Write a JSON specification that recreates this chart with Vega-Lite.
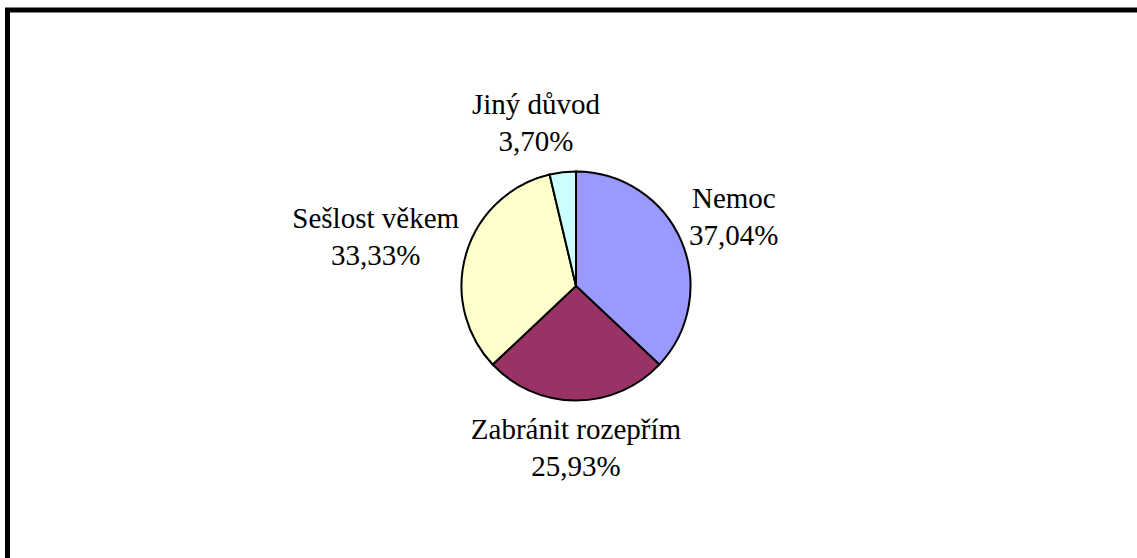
{
  "$schema": "https://vega.github.io/schema/vega-lite/v6.json",
  "width": 1137,
  "height": 552,
  "autosize": {"type": "none"},
  "padding": {"left": 7.5, "top": 10, "right": -7.5, "bottom": -4},
  "background": "white",
  "view": {"stroke": "black", "strokeWidth": 5, "fill": "white"},
  "data": {"values": [
    {"category": "Nemoc", "value": 37.04, "idx": 1, "label": "Nemoc\n37,04%"},
    {"category": "Zabránit rozepřím", "value": 25.93, "idx": 2, "label": "Zabránit rozepřím\n25,93%"},
    {"category": "Sešlost věkem", "value": 33.33, "idx": 3, "label": "Sešlost věkem\n33,33%"},
    {"category": "Jiný důvod", "value": 3.70, "idx": 4, "label": "Jiný důvod\n3,70%"}
  ]},
  "encoding": {
    "theta": {"field": "value", "type": "quantitative", "stack": true},
    "order": {"field": "idx", "type": "quantitative"}
  },
  "layer": [
    {
      "mark": {"type": "arc", "radius": 114.5, "stroke": "black", "strokeWidth": 2},
      "encoding": {
        "color": {"field": "category", "type": "nominal", "legend": null,
          "scale": {"domain": ["Nemoc", "Zabránit rozepřím", "Sešlost věkem", "Jiný důvod"],
                    "range": ["#9999FF", "#993366", "#FFFFCC", "#CCFFFF"]}}
      }
    },
    {
      "mark": {"type": "text", "font": "Liberation Serif", "fontSize": 29, "lineHeight": 37,
               "lineBreak": "\n", "align": "center", "baseline": "middle", "color": "black", "dy": -18.5},
      "encoding": {
        "text": {"field": "label", "type": "nominal"},
        "theta": {"field": "value", "type": "quantitative", "stack": true,
          "scale": {"type": "linear", "domain": [0, 18.52, 50.0, 79.63, 98.15, 100], "range": [0, 1.162, 3.1416, 4.948, 6.041, 6.2832], "zero": false, "nice": false}},
        "radius": {"field": "value", "type": "quantitative",
          "scale": {"type": "linear", "domain": [3.70, 25.93, 33.33, 37.04], "range": [167, 162, 206, 172], "zero": false, "nice": false, "clamp": true}}
      }
    }
  ],
  "resolve": {"scale": {"theta": "independent"}}
}
